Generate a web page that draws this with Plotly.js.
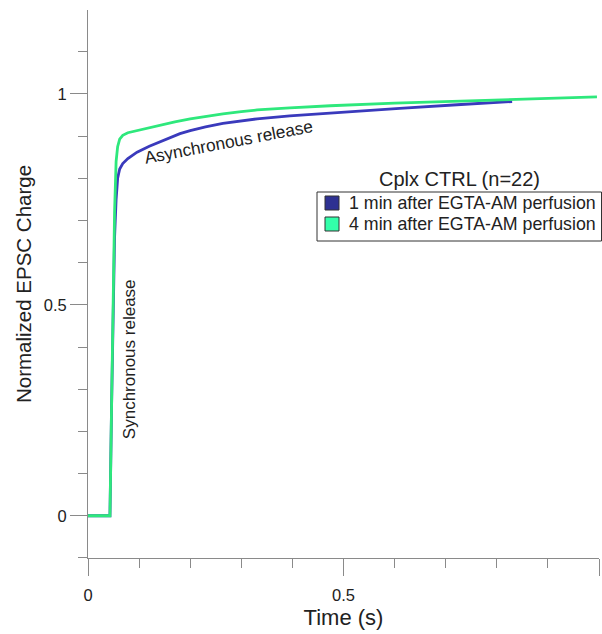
<!DOCTYPE html>
<html>
<head>
<meta charset="utf-8">
<script src="https://cdn.plot.ly/plotly-3.0.1.min.js"></script>
<style>html,body{margin:0;padding:0;background:#fff;}#chart{width:602px;height:634px;}</style>
</head>
<body>
<div id="chart"></div>
<script>
// Time (s) and normalized EPSC charge
var time1min = [0, 0.043, 0.046, 0.049, 0.052, 0.055, 0.058, 0.062, 0.068, 0.078, 0.096, 0.120, 0.141, 0.160, 0.180, 0.200, 0.230, 0.264, 0.300, 0.331, 0.395, 0.474, 0.610, 0.730, 0.830];
var charge1min = [0, 0, 0.25, 0.50, 0.66, 0.75, 0.80, 0.822, 0.835, 0.847, 0.862, 0.876, 0.887, 0.897, 0.906, 0.913, 0.922, 0.930, 0.936, 0.941, 0.948, 0.955, 0.966, 0.975, 0.982];

var time4min = [0, 0.043, 0.046, 0.049, 0.052, 0.055, 0.058, 0.062, 0.068, 0.078, 0.098, 0.121, 0.145, 0.170, 0.200, 0.230, 0.264, 0.300, 0.331, 0.395, 0.474, 0.600, 0.730, 0.860, 0.996];
var charge4min = [0, 0, 0.25, 0.50, 0.72, 0.84, 0.875, 0.893, 0.902, 0.908, 0.914, 0.921, 0.927, 0.934, 0.941, 0.947, 0.953, 0.958, 0.962, 0.967, 0.972, 0.978, 0.983, 0.988, 0.993];

var seriesNames = ["1 min after EGTA-AM perfusion", "4 min after EGTA-AM perfusion"];
var legendTitle = "Cplx CTRL (n=22)";
var xTickVals = [0, 0.5, 1];
var xTickText = ["0", "0.5", "1"];
var yTickVals = [0, 0.5, 1];
var yTickText = ["0", "0.5", "1"];

var lineColors = ["#3a3abc", "#2ee87c"];
var swatchColors = ["#2e3192", "#33ffaa"];
var font = "Liberation Sans, Arial, sans-serif";
var textColor = "#222";
var axisColor = "#8a8a8a";

// plot-area geometry (pixels) used for placing the hand-drawn legend
var M = {l: 88, r: 3, t: 10, b: 76};
var W = 602, H = 634;
var pw = W - M.l - M.r, ph = H - M.t - M.b;
function px(x) { return (x - M.l) / pw; }
function py(y) { return (H - M.b - y) / ph; }

var traces = [
  {x: time1min, y: charge1min, type: "scatter", mode: "lines", name: seriesNames[0], line: {color: lineColors[0], width: 2.8}, showlegend: false, hoverinfo: "skip"},
  {x: time4min, y: charge4min, type: "scatter", mode: "lines", name: seriesNames[1], line: {color: lineColors[1], width: 2.8}, showlegend: false, hoverinfo: "skip"}
];

var rowCenters = [203, 224];
var shapes = [
  {type: "rect", xref: "paper", yref: "paper", x0: px(317), x1: px(601.5), y0: py(241), y1: py(192), line: {color: "#333", width: 1}, fillcolor: "rgba(255,255,255,0)"}
];
var annotations = [
  {x: 0.274, y: 0.887, xref: "x", yref: "y", text: "Asynchronous release", showarrow: false, textangle: -10.8, font: {family: font, size: 17.3, color: textColor}},
  {x: 0.080, y: 0.371, xref: "x", yref: "y", text: "Synchronous release", showarrow: false, textangle: -90, font: {family: font, size: 17, color: textColor}},
  {x: px(459), y: py(179), xref: "paper", yref: "paper", xanchor: "center", yanchor: "middle", text: legendTitle, showarrow: false, font: {family: font, size: 20, color: textColor}}
];
seriesNames.forEach(function (name, i) {
  var c = rowCenters[i];
  shapes.push({type: "rect", xref: "paper", yref: "paper", x0: px(325), x1: px(339), y0: py(c + 7), y1: py(c - 7), fillcolor: swatchColors[i], line: {color: "#333", width: 1}});
  annotations.push({x: px(347), y: py(c), xref: "paper", yref: "paper", xanchor: "left", yanchor: "middle", text: name, showarrow: false, font: {family: font, size: 17.8, color: textColor}});
});

var layout = {
  width: W, height: H,
  margin: {l: M.l, r: M.r, t: M.t, b: M.b, autoexpand: false},
  paper_bgcolor: "#fff", plot_bgcolor: "#fff",
  font: {family: font, color: textColor},
  showlegend: false,
  xaxis: {
    range: [0, 1], showgrid: false, zeroline: false,
    showline: true, linecolor: axisColor, linewidth: 1,
    ticks: "outside", ticklen: 17, tickcolor: axisColor, tickwidth: 1,
    tickmode: "array", tickvals: xTickVals, ticktext: xTickText,
    tickfont: {family: font, size: 16.5, color: textColor},
    ticklabelstandoff: 5,
    minor: {dtick: 0.1, tick0: 0, ticks: "outside", ticklen: 9, tickcolor: axisColor, tickwidth: 1},
    title: {text: "Time (s)", font: {family: font, size: 22, color: textColor}, standoff: 6},
    fixedrange: true
  },
  yaxis: {
    range: [-0.1001, 1.199], showgrid: false, zeroline: false,
    showline: true, linecolor: axisColor, linewidth: 1,
    ticks: "outside", ticklen: 17, tickcolor: axisColor, tickwidth: 1,
    tickmode: "array", tickvals: yTickVals, ticktext: yTickText,
    tickfont: {family: font, size: 16.5, color: textColor},
    minor: {dtick: 0.1, tick0: 0, ticks: "outside", ticklen: 9, tickcolor: axisColor, tickwidth: 1},
    title: {text: "Normalized EPSC Charge", font: {family: font, size: 20.5, color: textColor}, standoff: 6},
    fixedrange: true
  },
  shapes: shapes,
  annotations: annotations
};

Plotly.newPlot("chart", traces, layout, {displayModeBar: false, staticPlot: true});
</script>
</body>
</html>
